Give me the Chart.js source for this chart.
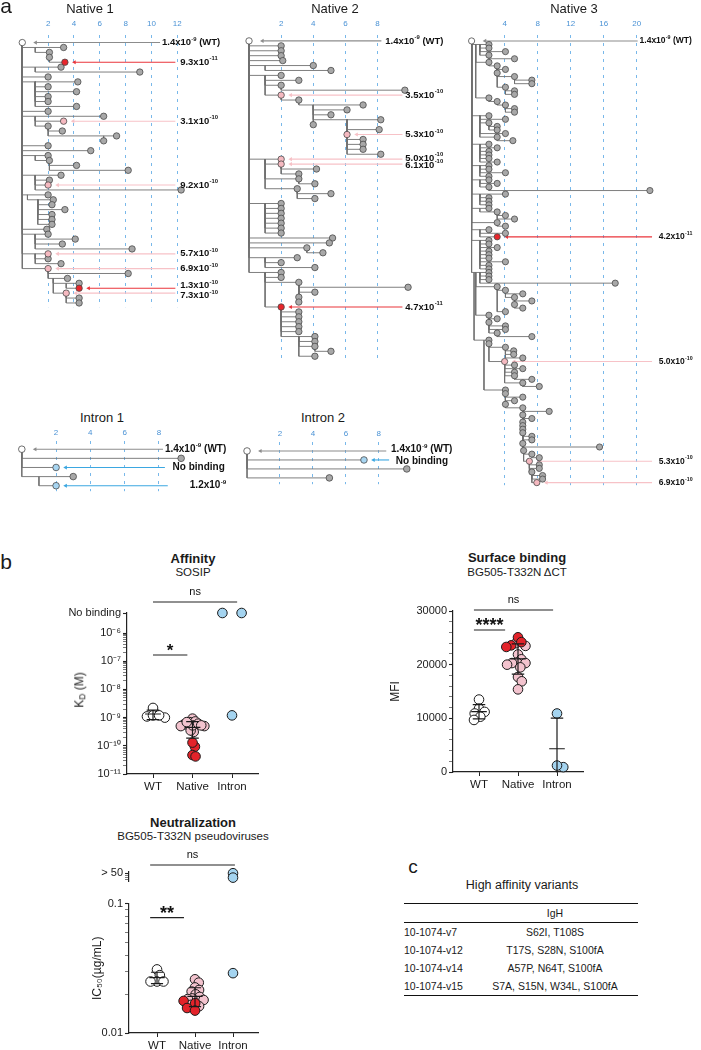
<!DOCTYPE html>
<html>
<head>
<meta charset="utf-8">
<script src="https://cdn.jsdelivr.net/npm/chart.js@4.4.1/dist/chart.umd.min.js"></script>
<style>
  body { margin: 0; background: #fff; }
  #page { position: relative; width: 701px; height: 1050px; overflow: hidden;
          font-family: "Liberation Sans", Arial, sans-serif; color: #1a1a1a; }
  #page canvas { position: absolute; }
  .txt { position: absolute; white-space: nowrap; transform: translate(-50%, -50%); line-height: 1; }
  .rot { position: absolute; white-space: nowrap; transform: translate(-50%, -50%) rotate(-90deg); line-height: 1; }
  sub { font-size: 70%; vertical-align: -2px; }
  table { border-collapse: collapse; width: 100%; border-top: 1.6px solid #111; border-bottom: 1.6px solid #111; }
  td { padding: 0; height: 18px; }
  tr.hd td { border-bottom: 1.2px solid #111; }
</style>
</head>
<body>
<div id="page"></div>
<script>
const FONT = '"Liberation Sans", Arial, sans-serif';
Chart.defaults.font.family = FONT;
Chart.defaults.color = '#222';

// ---------- panel a: lineage trees ----------
// one entry per row, top to bottom. bx = x where the branch leaves its parent, x = mutations of the node
const native1Bx = [0,0,1,2.1,2.1,0,1,0,0,1, 1,1,1,1,0,0,1,1,2,2, 6.3,0,0,0,1,2.1,2.1,0,1,1,
  1,0,0.4,1.2,1.2,1.2,1.2,1.2,0,0, 1,1,1,0,1,1,0,2,2,2.4, 3.4,2.4,3.4,3.4];
const native1X = [0,3.2,2.1,2.1,3.3,3.0,9.1,2.0,4.3,2.0, 4.2,2.0,2.0,4.2,2.0,6.3,3.2,2.0,3.1,7.3,
  6.3,2.0,5.3,2.0,2.1,4.2,8.2,3.0,2.1,2.0, 12.3,2.0,2.4,2.3,3.3,2.3,2.3,2.3,1.9,2.0,
  4.1,3.1,8.5,2.0,2.0,3.0,2.0,8.2,3.5,4.4, 4.4,3.4,4.4,4.4];
const native1Red = [4, 50];
const native1Pink = [16, 29, 43, 46, 51];
const native1KdRows = [0, 4, 16, 29, 43, 46, 50, 51];
const native1KdMant = [1.4, 9.3, 3.1, 9.2, 5.7, 6.9, 1.3, 7.3];
const native1KdExp = [-9, -11, -10, -10, -10, -10, -10, -10];

const native2Bx = [0,0,0,0,0,0,1,0,1,1, 2,1,2,3.1,4,4,4,4,6.1,6.1, 6.1,6.1,6.1,6.1,0,1,2,2,1,3.1,
  1,3.0,3.0,0,1,1,1,1,1,1, 0,0,0,3.6,0,1,1,0,1,1, 3.1,3.1,3.1,3.1,1,2,2,2,2,2, 2,3.1,3.1,4.1,3.1];
const native2X = [0,2.0,2.0,2.0,2.1,4.0,5.1,2.0,3.1,2.0, 9.7,2.0,3.1,7.1,6.1,5.1,8.2,4.0,8.1,6.1,
  7.1,7.1,7.1,8.2,2.0,2.0,4.2,3.1,3.1,4.1, 3.0,5.1,4.1,2.0,2.0,2.0,2.0,2.0,2.0,2.0,
  5.2,5.0,3.6,4.6,3.0,2.0,4.1,2.0,2.0,3.1, 9.9,4.1,3.1,3.1,2.0,3.1,3.1,3.1,3.1,3.1, 4.1,4.1,4.1,5.1,4.1];
const native2Red = [54];
const native2Pink = [11, 19, 24, 25];
const native2KdRows = [0, 11, 19, 24, 25, 54];
const native2KdMant = [1.4, 3.5, 5.3, 5.0, 6.1, 4.7];
const native2KdExp = [-9, -10, -10, -10, -10, -11];

const native3Bx = [0,0,1,1,1,2.1,0.5,2.1,3.1,3.1, 3.1,5.2,5.2,3.1,4.1,4.1,0.5,2.1,3.1,4.1,
  4.1,0,1,1,2.1,2.1,1,1,3.1,0, 1,1,1,1,1,0,1,1,1,0, 1,1,2.1,0,1,1,1,0,1,3.1,
  3.1,0,3.1,0,1,1,0,1,1,1, 1,1,1,1,1,0,1,1,1,0.5, 3.1,4.1,4.1,5.2,5.2,5.2,3.1,0.5,2.1,2.1,
  2.1,2.1,2.1,3.1,0.3,2.1,2.1,4.1,4.1,4.1, 2.1,4,4,4,4,5.2,4,6.2,1.5,4.1,
  4.1,4.1,4.1,4.1,6.2,6.2,6.2,6.2,6.2,6.2, 6.2,6.2,6.2,6.2,6.2,6.2,6.3,7.3,6.3,7, 7,7,7.3,7.3,7.3];
const native3X = [0,2.1,2.1,4.1,2.1,5.2,2.1,3.1,4.1,3.1, 5.2,7.3,7.3,4.1,5.2,5.2,2.1,3.1,4.1,5.2,
  5.2,2.1,4.1,2.1,3.1,3.1,4.1,3.1,5.0,2.1, 3.1,2.1,2.1,2.1,3.1,2.1,2.1,4.1,2.1,2.1,
  3.1,2.1,21.6,4.1,2.1,2.1,2.1,2.1,3.1,4.1, 5.2,3.1,4.1,2.1,4.1,3.1,2.1,2.1,3.1,2.1,
  2.1,2.1,4.1,2.1,2.1,2.1,2.1,2.1,17.4,3.1, 4.1,6.2,5.2,7.3,5.2,6.2,4.1,2.1,3.1,2.1,
  4.1,4.1,3.1,7.3,2.1,2.1,4.1,5.1,5.1,6.2, 4.0,5.2,6.2,5.2,5.2,7.3,6.2,8.2,4.1,4.1,
  6.2,5.2,4.1,6.2,9.4,6.2,7.3,6.2,6.2,6.2, 6.2,7.3,7.3,6.2,15.5,6.3,7.3,8.2,7.0,8.2, 8.2,7.3,8.6,8.6,7.9];
const native3Red = [55];
const native3Pink = [90, 118, 124];
const native3KdRows = [0, 55, 90, 118, 124];
const native3KdMant = [1.4, 4.2, 5.0, 5.3, 6.9];
const native3KdExp = [-9, -11, -10, -10, -10];

const intron1Bx = [0, 0, 0, 0, 1];
const intron1X = [0, 9.3, 2.0, 3.0, 2.0];
const intron1Blue = [2, 4];
const intron1KdRows = [0, 2, 4];
const intron1KdMant = [1.4, null, 1.2];   // null = no binding
const intron1KdExp = [-9, null, -9];

const intron2Bx = [0, 0, 0, 0];
const intron2X = [0, 7.1, 9.7, 5.0];
const intron2Blue = [1];
const intron2KdRows = [0, 1];
const intron2KdMant = [1.4, null];
const intron2KdExp = [-9, null];

// ---------- panel b ----------
const groups = ['WT', 'Native', 'Intron'];
// affinity, KD (M); null = no binding
const kdWT = [2.2e-9, 1.1e-9, 1.2e-9, 1.0e-9, 1.2e-9];
const kdNativePink = [3.1e-10, 9.2e-10, 5.7e-10, 6.9e-10, 7.3e-10, 3.5e-10, 5.3e-10, 5.0e-10, 6.1e-10, 5.0e-10, 5.3e-10, 6.9e-10];
const kdNativeRed = [9.3e-11, 1.3e-10, 4.7e-11, 4.2e-11];
const kdIntron = [null, null, 1.2e-9];
const kdDecades = [-11, -10, -9, -8, -7, -6];
// surface binding, MFI
const mfiWT = [13500, 11800, 11200, 10900, 10300, 9700];
const mfiNativePink = [24000, 23500, 21900, 21000, 20400, 20300, 20300, 20000, 17700, 16900, 15400, 19500];
const mfiNativeRed = [25100, 24200, 23600, 23300];
const mfiIntron = [10900, 900, 1200];
const mfiTicks = [0, 10000, 20000, 30000];
// neutralization, IC50 (ug/mL); null = > 50
const ic50WT = [0.031, 0.028, 0.025, 0.025, 0.025];
const ic50NativePink = [0.026, 0.0245, 0.0225, 0.0215, 0.0209, 0.0199, 0.019, 0.0185, 0.0183, 0.018, 0.0165, 0.0161];
const ic50NativeRed = [0.0177, 0.017, 0.0156, 0.0149];
const ic50Intron = [null, null, 0.029];
const ic50Ticks = [0.01, 0.1];

// ---------- panel c ----------
const variantNames = ['10-1074-v7', '10-1074-v12', '10-1074-v14', '10-1074-v15'];
const variantIgH = ['S62I, T108S', 'T17S, S28N, S100fA', 'A57P, N64T, S100fA', 'S7A, S15N, W34L, S100fA'];

// ---------- helpers ----------
const page = document.getElementById('page');
function canvasAt(l, t, w, h) {
  const c = document.createElement('canvas');
  c.width = w; c.height = h;
  c.style.left = l + 'px'; c.style.top = t + 'px';
  page.appendChild(c);
  return c;
}
function text(s, cx, cy, css, cls) {
  const d = document.createElement('div');
  d.className = cls || 'txt';
  d.style.cssText = `left:${cx}px;top:${cy}px;` + (css || '');
  d.innerHTML = s;
  page.appendChild(d);
}
const SUP = {'-': '⁻', '0': '⁰', '1': '¹', '2': '²', '3': '³', '4': '⁴', '5': '⁵', '6': '⁶', '7': '⁷', '8': '⁸', '9': '⁹'};
const sup = n => String(n).split('').map(c => SUP[c]).join('');

const fill = {w: '#ffffff', g: '#a8a8a8', p: '#f5b9c0', r: '#e8262c', b: '#a7d5f1'};
const arrowCol = {w: '#8c8c8c', p: '#f7c2c7', r: '#ea353b', b: '#3ba7e1'};

// labels for the KD values next to the trees
const kdPlugin = {
  id: 'kdLabels',
  afterDatasetsDraw(chart) {
    const info = chart.canvas._kd;
    if (!info) return;
    const {ctx, scales: {x, y}} = chart;
    const items = info.items.map(it => ({...it, px: x.getPixelForValue(it.x), py: y.getPixelForValue(it.row)}));
    for (let i = 1; i < items.length; i++) {
      const gap = items[i].py - items[i - 1].py;
      if (gap < info.minGap) { const s = (info.minGap - gap) / 2; items[i - 1].py -= s; items[i].py += s; }
    }
    const fs = info.fs;
    ctx.save();
    ctx.fillStyle = '#111';
    ctx.textBaseline = 'middle';
    items.forEach(it => {
      let px = it.px;
      ctx.font = `bold ${fs}px ${FONT}`;
      if (it.mant == null) { ctx.fillText('No binding', px, it.py); return; }
      const m = it.mant.toFixed(1) + 'x10';
      ctx.fillText(m, px, it.py);
      px += ctx.measureText(m).width + 0.3;
      ctx.font = `bold ${fs * 0.62}px ${FONT}`;
      ctx.fillText(String(it.exp), px, it.py - fs * 0.38);
      px += ctx.measureText(String(it.exp)).width;
      if (it.wt) {
        ctx.font = `bold ${fs}px ${FONT}`;
        ctx.fillText(' (WT)', px, it.py);
      }
    });
    ctx.restore();
  }
};

// significance bars above the dot plots
const sigPlugin = {
  id: 'sigBars',
  afterDatasetsDraw(chart) {
    const items = chart.canvas._sig;
    if (!items) return;
    const {ctx, chartArea, scales: {x}} = chart;
    ctx.save();
    ctx.strokeStyle = '#222'; ctx.fillStyle = '#111'; ctx.lineWidth = 1.1;
    items.forEach(s => {
      const y = chartArea.top + s.dy, x1 = x.getPixelForValue(s.from), x2 = x.getPixelForValue(s.to);
      ctx.beginPath(); ctx.moveTo(x1, y); ctx.lineTo(x2, y); ctx.stroke();
      ctx.textAlign = 'center';
      if (s.star) {
        ctx.font = `bold ${s.size}px ${FONT}`; ctx.textBaseline = 'alphabetic';
        ctx.fillText(s.text, (x1 + x2) / 2, y + 1);
      } else {
        ctx.font = `${s.size}px ${FONT}`; ctx.textBaseline = 'middle';
        ctx.fillText(s.text, (x1 + x2) / 2, y - 10);
      }
    });
    ctx.restore();
  }
};
Chart.register(kdPlugin, sigPlugin);

function parentRow(bx, xs, i) {
  for (let j = i - 1; j >= 1; j--) if (bx[j] < bx[i] && bx[i] <= xs[j]) return j;
  return 0;
}
function treeLines(bx, xs) {
  const pts = [];
  for (let i = 1; i < xs.length; i++) {
    const p = parentRow(bx, xs, i);
    pts.push({x: bx[i], y: p}, {x: bx[i], y: i}, {x: xs[i], y: i}, {x: null, y: null});
  }
  return pts;
}
const pick = (v, i) => Array.isArray(v) ? v[i] : v;

function treeChart(t) {
  const top = t.ct - t.axisH;
  const cv = canvasAt(t.cl, top, t.cr - t.cl, t.cb - top);
  const px2x = p => (p - t.x0) / t.ppu;
  const kind = t.x.map((v, i) => i === 0 ? 'w' : (t.red || []).includes(i) ? 'r' :
    (t.pink || []).includes(i) ? 'p' : (t.blue || []).includes(i) ? 'b' : 'g');

  const datasets = [{data: treeLines(t.bx, t.x), showLine: true, borderColor: '#707070', borderWidth: 0.9,
    pointRadius: 0, clip: false, order: 6}];
  const items = [];
  t.kdRows.forEach((row, k) => {
    const wt = row === 0, col = arrowCol[kind[row]];
    const tail = wt ? t.wtTail : pick(t.tail, k - 1);
    const lab = wt ? t.wtLab : pick(t.lab, k - 1);
    const tip = t.x[row] + (wt ? 14 : 10) / t.ppu;
    datasets.push({data: [{x: px2x(tail), y: row}, {x: tip, y: row}], showLine: true, borderColor: col,
      borderWidth: 1.1, pointRadius: [0, 2.4], pointStyle: 'triangle', pointRotation: 270,
      pointBackgroundColor: col, pointBorderWidth: 0, clip: false, order: 5});
    items.push({x: px2x(lab), row, mant: t.mant[k], exp: t.exp[k], wt});
  });
  const order = {g: 4, b: 3, p: 2, r: 1, w: 1};
  'gbprw'.split('').forEach(kd => {
    const pts = [];
    t.x.forEach((x, i) => { if (kind[i] === kd) pts.push({x, y: i}); });
    if (pts.length) datasets.push({data: pts, pointRadius: t.r, pointBackgroundColor: fill[kd],
      pointBorderColor: '#4a4a4a', pointBorderWidth: 0.8, clip: false, order: order[kd]});
  });
  cv._kd = {items, fs: t.fs, minGap: t.minGap || 0};

  new Chart(cv, {
    type: 'scatter',
    data: {datasets},
    options: {
      responsive: false, animation: false, events: [],
      layout: {padding: 0},
      plugins: {legend: {display: false}, tooltip: {enabled: false}},
      scales: {
        x: {type: 'linear', position: 'top', min: px2x(t.cl), max: px2x(t.cr),
          afterBuildTicks: s => { s.ticks = t.ticks.map(v => ({value: v})); },
          afterFit: s => { s.height = t.axisH; },
          ticks: {color: '#4a92d5', font: {size: 8}, padding: t.tp, autoSkip: false, maxRotation: 0},
          grid: {color: '#78b8ea', lineWidth: 1, drawTicks: false},
          border: {display: false, dash: [3, 5]}},
        y: {type: 'linear', display: false, reverse: true,
          min: (t.ct - t.y0) / t.ppr, max: (t.cb - t.y0) / t.ppr}
      }
    }
  });
}

treeChart({cl: 6, cr: 228, ct: 35, cb: 312, x0: 18, ppu: 13.5, y0: 42.7, ppr: 5.0, axisH: 20, tp: 6,
  ticks: [2, 4, 6, 8, 10, 12], r: 3.2, fs: 9.5, minGap: 10,
  wtTail: 162, wtLab: 164, tail: 178, lab: 183,
  bx: native1Bx, x: native1X, red: native1Red, pink: native1Pink,
  kdRows: native1KdRows, mant: native1KdMant, exp: native1KdExp});
treeChart({cl: 236, cr: 456, ct: 35, cb: 364, x0: 244.6, ppu: 16.8, y0: 41, ppr: 5.0, axisH: 20, tp: 6,
  ticks: [2, 4, 6, 8], r: 3.2, fs: 9.5, minGap: 6.5,
  wtTail: 383, wtLab: 387, tail: 405, lab: 408,
  bx: native2Bx, x: native2X, red: native2Red, pink: native2Pink,
  kdRows: native2KdRows, mant: native2KdMant, exp: native2KdExp});
treeChart({cl: 462, cr: 701, ct: 35, cb: 490, x0: 467, ppu: 8.6, y0: 41, ppr: 3.6, axisH: 20, tp: 6,
  ticks: [4, 8, 12, 16, 20], r: 3.1, fs: 8.5,
  wtTail: 640, wtLab: 642, tail: 655, lab: 662,
  bx: native3Bx, x: native3X, red: native3Red, pink: native3Pink,
  kdRows: native3KdRows, mant: native3KdMant, exp: native3KdExp});
treeChart({cl: 6, cr: 230, ct: 441, cb: 496, x0: 17.5, ppu: 17.9, y0: 450, ppr: 10, axisH: 16, tp: 3,
  ticks: [2, 4, 6, 8], r: 3.3, fs: 10,
  wtTail: 165, wtLab: 167, tail: [167, 170], lab: [175, 193],
  bx: intron1Bx, x: intron1X, blue: intron1Blue,
  kdRows: intron1KdRows, mant: intron1KdMant, exp: intron1KdExp});
treeChart({cl: 234, cr: 460, ct: 442, cb: 489, x0: 242.6, ppu: 17.2, y0: 452, ppr: 10, axisH: 16, tp: 3,
  ticks: [2, 4, 6, 8], r: 3.3, fs: 10, minGap: 11.5,
  wtTail: 388, wtLab: 393, tail: [391], lab: [398],
  bx: intron2Bx, x: intron2X, blue: intron2Blue,
  kdRows: intron2KdRows, mant: intron2KdMant, exp: intron2KdExp});

// ---------- panel b helpers ----------
const R = 4.8;
function swarm(ys, d, maxOff) {
  // compact beeswarm in pixels: centres kept at least d apart, then squeezed into +-maxOff
  const placed = [], off = ys.map(() => 0);
  ys.map((y, i) => i).sort((a, b) => ys[a] - ys[b]).forEach(i => {
    const y = ys[i];
    const near = placed.filter(p => Math.abs(p.y - y) < d);
    const cands = [0];
    near.forEach(p => { const dx = Math.sqrt(d * d - (p.y - y) ** 2); cands.push(p.x + dx, p.x - dx); });
    cands.sort((a, b) => Math.abs(a) - Math.abs(b));
    const x = cands.find(c => near.every(p => (p.x - c) ** 2 + (p.y - y) ** 2 >= d * d - 0.01));
    off[i] = x; placed.push({x, y});
  });
  const widest = Math.max(...off.map(Math.abs));
  const k = widest > maxOff ? maxOff / widest : 1;
  return off.map(o => o * k);
}
function dots(cat, vals, cols, toPx, ppc, topVal) {
  const real = vals.map((v, i) => i).filter(i => vals[i] != null);
  const none = vals.map((v, i) => i).filter(i => vals[i] == null);
  const off = swarm(real.map(i => toPx(vals[i])), 1.35 * R, 0.3 * ppc);
  const data = real.map((i, k) => ({x: cat + off[k] / ppc, y: vals[i]}));
  const bg = real.map(i => cols[i]);
  none.forEach((i, k) => {
    data.push({x: cat + (k - (none.length - 1) / 2) * 4 * R / ppc, y: topVal});
    bg.push(cols[i]);
  });
  return {data, pointRadius: R, pointBackgroundColor: bg, pointBorderColor: '#1a1a1a',
    pointBorderWidth: 1, clip: false, order: 2};
}
function errorBar(cat, vals) {
  const n = vals.length, m = vals.reduce((a, b) => a + b, 0) / n;
  const sd = Math.sqrt(vals.reduce((a, v) => a + (v - m) ** 2, 0) / (n - 1));
  const gap = {x: null, y: null};
  return {data: [{x: cat - 0.2, y: m}, {x: cat + 0.2, y: m}, gap,
      {x: cat - 0.16, y: m + sd}, {x: cat + 0.16, y: m + sd}, gap,
      {x: cat - 0.16, y: m - sd}, {x: cat + 0.16, y: m - sd}, gap,
      {x: cat, y: m + sd}, {x: cat, y: m - sd}],
    showLine: true, borderColor: '#1a1a1a', borderWidth: 1.2, pointRadius: 0, clip: 0.5, order: 0};
}
const colorsFor = (arr, c) => arr.map(() => c);

function dotChart(o) {
  const cv = canvasAt(o.left, o.top, o.w, o.h);
  cv._sig = o.sig;
  const xAxis = o.showX === false ? {type: 'linear', display: false, min: o.xMin, max: o.xMax} : {
    type: 'linear', min: o.xMin, max: o.xMax,
    afterBuildTicks: s => { s.ticks = [1, 2, 3].map(v => ({value: v})); },
    afterFit: s => { s.height = o.xh; },
    ticks: {callback: v => groups[v - 1], font: {size: 11.5}, color: '#1a1a1a', padding: 2, autoSkip: false, maxRotation: 0},
    grid: {drawOnChartArea: false, tickLength: 4, tickColor: '#222', tickWidth: 1},
    border: {color: '#222', width: 1.2}};
  new Chart(cv, {
    type: 'scatter',
    data: {datasets: o.datasets},
    options: {
      responsive: false, animation: false, events: [],
      layout: {padding: {top: o.pt, right: o.pr, bottom: o.pb || 0, left: 0}},
      plugins: {legend: {display: false}, tooltip: {enabled: false}},
      scales: {x: xAxis, y: Object.assign({
        afterFit: s => { s.width = o.yw; },
        border: {color: '#222', width: 1.2}}, o.y)}
    }
  });
}
const isDecade = v => Math.abs(Math.log10(v) - Math.round(Math.log10(v))) < 1e-9;

// ---------- Affinity ----------
const NB = 10 ** -5.29;   // "No binding" row above 10^-6
const kdToPx = v => -Math.log10(v) * 28.2;
const kdTickVals = kdDecades.flatMap(e => e < -6 ? [1, 2, 3, 4, 5, 6, 7, 8, 9].map(k => k * 10 ** e) : [10 ** e]).concat([NB]);
dotChart({left: 60, top: 585, w: 205, h: 220, pt: 28, pr: 7, yw: 67, xh: 31,
  xMin: 1 - 26 / 39.5, xMax: 1 + 105 / 39.5,
  datasets: [
    dots(1, kdWT, colorsFor(kdWT, '#ffffff'), kdToPx, 39.5, NB),
    dots(2, kdNativePink.concat(kdNativeRed), colorsFor(kdNativePink, '#f3c3ce').concat(colorsFor(kdNativeRed, '#e3232a')), kdToPx, 39.5, NB),
    dots(3, kdIntron, colorsFor(kdIntron, '#a4d4f0'), kdToPx, 39.5, NB),
    errorBar(1, kdWT), errorBar(2, kdNativePink.concat(kdNativeRed))],
  sig: [{from: 1, to: 3.13, dy: -11, text: 'ns', size: 11}, {from: 1, to: 1.87, dy: 42, text: '*', size: 17, star: true}],
  y: {type: 'logarithmic', min: 1e-11, max: NB,
    afterBuildTicks: s => { s.ticks = kdTickVals.map(v => ({value: v})); },
    ticks: {autoSkip: false, font: {size: 11}, color: '#1a1a1a', padding: 2,
      callback: v => Math.abs(v / NB - 1) < 1e-9 ? 'No binding' : isDecade(v) ? '10' + sup(Math.round(Math.log10(v))) : ''},
    grid: {drawOnChartArea: false, tickLength: 4, tickColor: '#222',
      tickWidth: c => (c.tick && (isDecade(c.tick.value) || Math.abs(c.tick.value / NB - 1) < 1e-9)) ? 1.1 : 0.6}}
});

// ---------- Surface binding ----------
const mfiToPx = v => -v * 53.7 / 10000;
dotChart({left: 388, top: 585, w: 202, h: 220, pt: 26, pr: 7, yw: 65, xh: 33,
  xMin: 1 - 26 / 39, xMax: 1 + 104 / 39,
  datasets: [
    dots(1, mfiWT, colorsFor(mfiWT, '#ffffff'), mfiToPx, 39, 0),
    dots(2, mfiNativePink.concat(mfiNativeRed), colorsFor(mfiNativePink, '#f3c3ce').concat(colorsFor(mfiNativeRed, '#e3232a')), mfiToPx, 39, 0),
    dots(3, mfiIntron, colorsFor(mfiIntron, '#a4d4f0'), mfiToPx, 39, 0),
    errorBar(1, mfiWT), errorBar(2, mfiNativePink.concat(mfiNativeRed)), errorBar(3, mfiIntron)],
  sig: [{from: 0.87, to: 2.9, dy: -1, text: 'ns', size: 11}, {from: 0.87, to: 1.67, dy: 19, text: '****', size: 18, star: true}],
  y: {type: 'linear', min: 0, max: 30000,
    afterBuildTicks: s => { s.ticks = []; for (let v = 0; v <= 30000; v += 2000) s.ticks.push({value: v}); },
    ticks: {autoSkip: false, font: {size: 11}, color: '#1a1a1a', padding: 2,
      callback: v => mfiTicks.includes(v) ? String(v) : ''},
    grid: {drawOnChartArea: false, tickLength: 4, tickColor: '#222',
      tickWidth: c => (c.tick && mfiTicks.includes(c.tick.value)) ? 1.1 : 0.6},
    title: {display: true, text: 'MFI', font: {size: 12}, color: '#1a1a1a', padding: {top: 0, bottom: 0}}}
});

// ---------- Neutralization ----------
const icToPx = v => -Math.log10(v) * 132;
const over50 = ic50Intron.filter(v => v == null);
// "> 50" segment of the broken axis
dotChart({left: 90, top: 845, w: 175, h: 45, pt: 27, pr: 7, pb: 3, yw: 39, showX: false,
  xMin: 1 - 28 / 38, xMax: 1 + 101 / 38,
  datasets: [{data: over50.map((v, i) => ({x: 3, y: 50 - i * 2.15})), pointRadius: R,
    pointBackgroundColor: '#a4d4f0', pointBorderColor: '#1a1a1a', pointBorderWidth: 1, clip: false}],
  sig: [{from: 0.82, to: 3.05, dy: -7, text: 'ns', size: 11}],
  y: {type: 'linear', min: 46, max: 50.6,
    afterBuildTicks: s => { s.ticks = [47, 48, 49, 50].map(v => ({value: v})); },
    ticks: {autoSkip: false, font: {size: 11}, color: '#1a1a1a', padding: 2, callback: v => v === 50 ? '> 50' : ''},
    grid: {drawOnChartArea: false, tickLength: 4, tickColor: '#222', tickWidth: c => (c.tick && c.tick.value === 50) ? 1.1 : 0.6}}
});
dotChart({left: 90, top: 895, w: 175, h: 155, pt: 6, pr: 7, yw: 39, xh: 17,
  xMin: 1 - 28 / 38, xMax: 1 + 101 / 38,
  datasets: [
    dots(1, ic50WT, colorsFor(ic50WT, '#ffffff'), icToPx, 38, 0.1),
    dots(2, ic50NativePink.concat(ic50NativeRed), colorsFor(ic50NativePink, '#f3c3ce').concat(colorsFor(ic50NativeRed, '#e3232a')), icToPx, 38, 0.1),
    dots(3, ic50Intron.filter(v => v != null), ['#a4d4f0'], icToPx, 38, 0.1),
    errorBar(1, ic50WT), errorBar(2, ic50NativePink.concat(ic50NativeRed))],
  sig: [{from: 0.82, to: 1.71, dy: 14, text: '**', size: 18, star: true}],
  y: {type: 'logarithmic', min: 0.01, max: 0.1,
    afterBuildTicks: s => { s.ticks = [1, 2, 3, 4, 5, 6, 7, 8, 9, 10].map(k => ({value: k / 100})); },
    ticks: {autoSkip: false, font: {size: 11}, color: '#1a1a1a', padding: 2,
      callback: v => ic50Ticks.some(t => Math.abs(t - v) < 1e-9) ? String(v) : ''},
    grid: {drawOnChartArea: false, tickLength: 4, tickColor: '#222',
      tickWidth: c => (c.tick && ic50Ticks.some(t => Math.abs(t - c.tick.value) < 1e-9)) ? 1.1 : 0.6},
    title: {display: true, text: 'IC₅₀(µg/mL)', font: {size: 12}, color: '#1a1a1a', padding: {top: 0, bottom: 0}}}
});

// ---------- texts ----------
text('a', 6, 5, 'font-size:21px');
text('Native 1', 90, 8, 'font-size:13px');
text('Native 2', 335, 8, 'font-size:13px');
text('Native 3', 574, 8, 'font-size:13px');
text('Intron 1', 102, 417, 'font-size:13px');
text('Intron 2', 323, 417, 'font-size:13px');
text('b', 6, 561, 'font-size:21px');
text('Affinity', 193, 558, 'font-size:13px;font-weight:bold');
text('SOSIP', 193, 573, 'font-size:11.5px');
text('K<sub>D</sub> (M)', 80, 690, 'font-size:12px', 'rot');
text('Surface binding', 517, 557, 'font-size:13px;font-weight:bold');
text('BG505-T332N&thinsp;ΔCT', 517, 573, 'font-size:11.5px');
text('Neutralization', 193, 822, 'font-size:13px;font-weight:bold');
text('BG505-T332N pseudoviruses', 193, 837, 'font-size:11.5px');
text('c', 413, 866, 'font-size:19px');
text('High affinity variants', 522, 885, 'font-size:12.5px');

// ---------- panel c table ----------
const tbl = document.createElement('div');
tbl.style.cssText = 'position:absolute;left:404px;top:903px;width:234px;font-size:10.5px';
let html = '<table><tr class="hd"><td style="width:68px"></td><td style="text-align:center">IgH</td></tr>';
variantNames.forEach((n, i) => { html += `<tr><td>${n}</td><td style="text-align:center">${variantIgH[i]}</td></tr>`; });
tbl.innerHTML = html + '</table>';
page.appendChild(tbl);
</script>
</body>
</html>
